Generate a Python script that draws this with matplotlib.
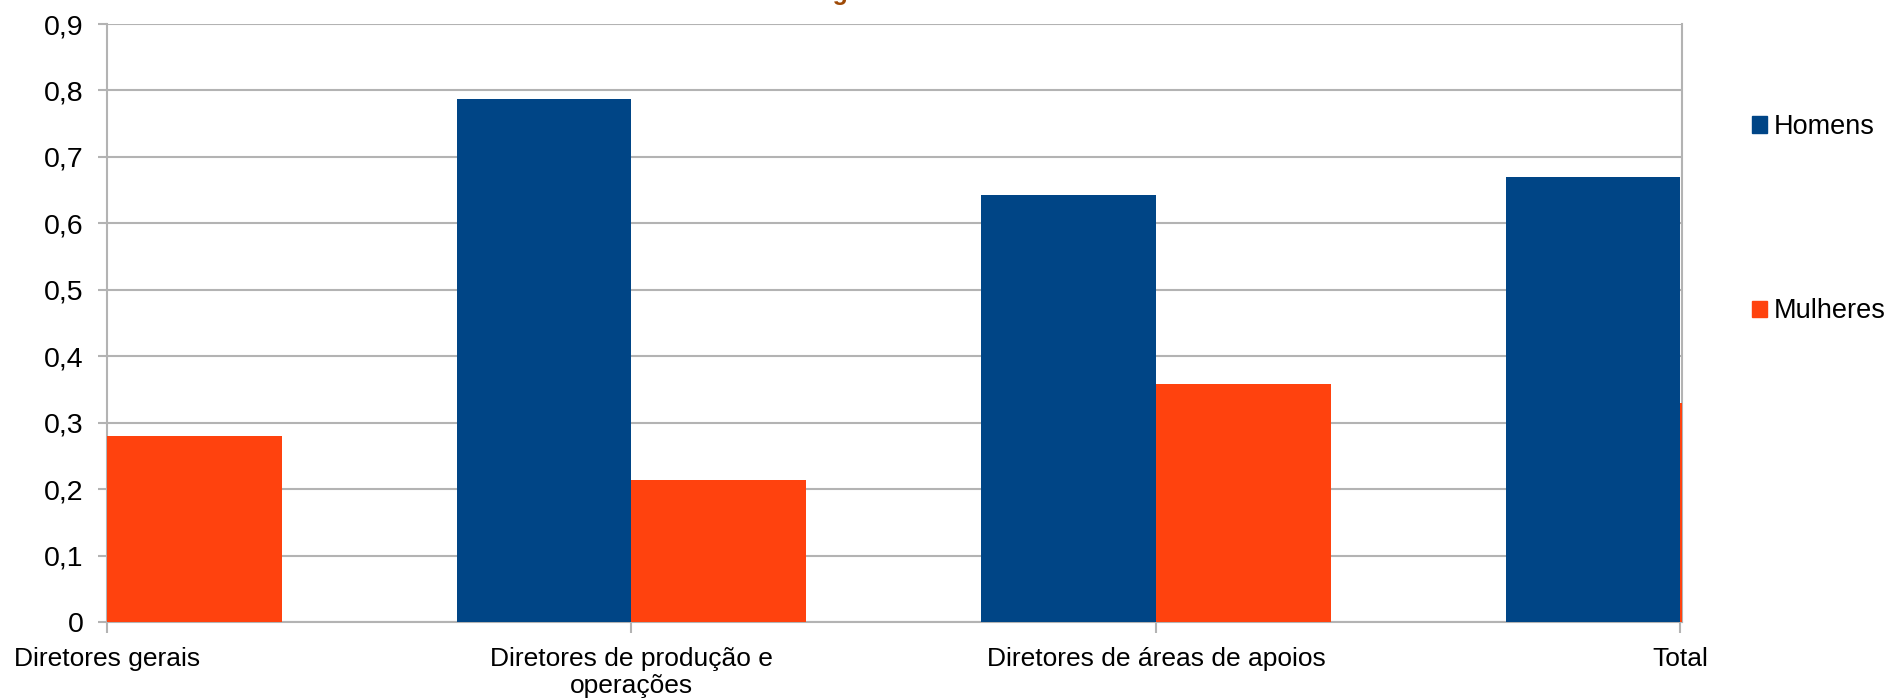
import matplotlib.pyplot as plt
import numpy as np
from matplotlib.patches import Patch

# fonte parecida com Arial
plt.rcParams['font.family'] = ['Liberation Sans', 'DejaVu Sans']

# dados
categorias = ['Diretores gerais', 'Diretores de produção e\noperações',
              'Diretores de áreas de apoios', 'Total']
homens = [0.72, 0.787, 0.642, 0.67]
mulheres = [0.28, 0.213, 0.358, 0.33]
series = ['Homens', 'Mulheres']
yticks = [0, 0.1, 0.2, 0.3, 0.4, 0.5, 0.6, 0.7, 0.8, 0.9]
titulo = 'Percentagem de homens e mulheres'

cor_h = '#004586'
cor_m = '#ff420e'
cinza = '#b3b3b3'

fig = plt.figure(figsize=(18.89, 6.99), dpi=100)
ax = fig.add_axes([107 / 1889, 1 - 622 / 699, (1682 - 107) / 1889, (622 - 24) / 699])

x = np.arange(len(categorias))
w = 1 / 3
ax.bar(x - w / 2, homens, w, color=cor_h, zorder=3)
ax.bar(x + w / 2, mulheres, w, color=cor_m, zorder=3)

# o eixo corta os grupos das pontas (fica só uma lasca da última barra)
ax.set_xlim(0, 3.003)
ax.set_ylim(0, 0.9)
ax.set_xticks(x)
ax.set_xticklabels(categorias, fontsize=19, linespacing=1.15)
ax.set_yticks(yticks)
ax.set_yticklabels([('%g' % v).replace('.', ',') for v in yticks], fontsize=20.5)

ax.grid(axis='y', color=cinza, linewidth=1.5, zorder=0)
for s in ['left', 'bottom', 'right']:
    ax.spines[s].set_color(cinza)
    ax.spines[s].set_linewidth(1.5)
ax.spines['top'].set_visible(False)
ax.tick_params(axis='both', colors=cinza, labelcolor='black', width=1.5)
ax.tick_params(axis='y', length=6.5, pad=10.5)
ax.tick_params(axis='x', length=8, pad=10)

# legenda
handles = [Patch(color=cor_h), Patch(color=cor_m)]
fig.legend(handles, series, loc='upper left', bbox_to_anchor=(1752 / 1889, 1 - 114 / 699),
           frameon=False, fontsize=19.5, handlelength=0.55, handleheight=0.55,
           handletextpad=0.25, labelspacing=5.85, borderaxespad=0, borderpad=0)

# título cortado no topo
fig.text(0.5, 1.0, titulo, ha='center', va='baseline', fontsize=18,
         fontweight='bold', color='#9e4a06')

fig.savefig('out.png', dpi=100)
